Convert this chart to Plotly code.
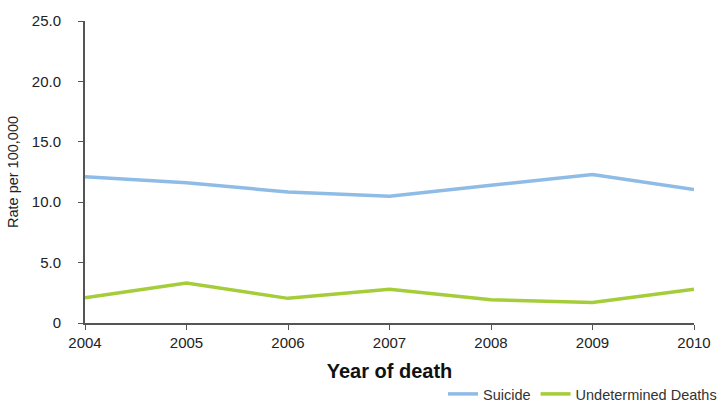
import plotly.graph_objects as go

years = [2004, 2005, 2006, 2007, 2008, 2009, 2010]
suicide = [12.1, 11.6, 10.85, 10.5, 11.4, 12.3, 11.05]
undetermined = [2.08, 3.3, 2.04, 2.8, 1.92, 1.7, 2.8]
y_ticks = [0, 5, 10, 15, 20, 25]
y_labels = ["0", "5.0", "10.0", "15.0", "20.0", "25.0"]

fig = go.Figure()
fig.add_trace(go.Scatter(x=years, y=suicide, mode="lines", name="Suicide",
                         line=dict(color="#8FBCE6", width=3.5)))
fig.add_trace(go.Scatter(x=years, y=undetermined, mode="lines", name="Undetermined Deaths",
                         line=dict(color="#A5CD3A", width=3.5)))

fig.update_layout(
    width=724, height=403,
    margin=dict(l=85, r=30, t=21, b=80, autoexpand=False),
    paper_bgcolor="white", plot_bgcolor="white",
    font=dict(family="Liberation Sans, Arial, sans-serif", color="#222222", size=15),
    showlegend=True,
    legend=dict(orientation="h", x=1.046, xanchor="right", y=-0.235, yanchor="middle",
                font=dict(size=14.5, color="#333333"), itemwidth=30,
                bgcolor="rgba(0,0,0,0)"),
    xaxis=dict(range=[2004, 2010], tickmode="array", tickvals=years,
               ticktext=[str(y) for y in years], automargin=False,
               showgrid=False, zeroline=False, showline=True, linecolor="#555555", linewidth=2,
               ticks="outside", ticklen=5, tickcolor="#555555",
               title=dict(text="<b>Year of death</b>", font=dict(size=20, color="#111111"), standoff=14)),
    yaxis=dict(range=[0, 25], tickmode="array", tickvals=y_ticks, ticktext=y_labels,
               automargin=False, ticklabelstandoff=14,
               showgrid=False, zeroline=False, showline=True, linecolor="#555555", linewidth=2,
               ticks="outside", ticklen=5, tickcolor="#555555",
               title=dict(text="Rate per 100,000", font=dict(size=14.5, color="#222222"), standoff=10)),
)

fig.write_html("out.html", config={"displayModeBar": False},
               post_script="document.body.style.margin='0';")
